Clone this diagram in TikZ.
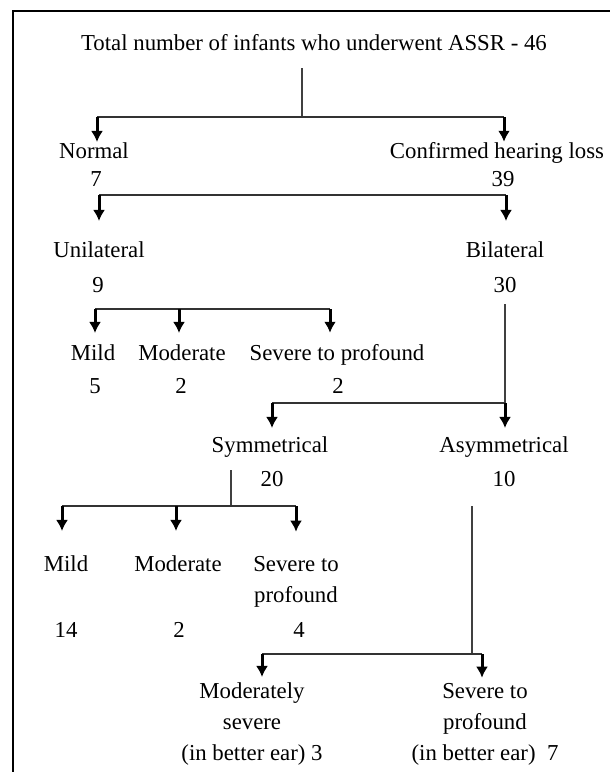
\documentclass[tikz,border=0pt]{standalone}
\usepackage{fontspec}
\setmainfont{Liberation Serif}
\usetikzlibrary{arrows.meta}

\begin{document}
\begin{tikzpicture}[
x=1pt, y=-1pt,
every node/.style={
inner sep=0pt,
align=center,
font=\fontsize{22.8}{31}\selectfont
},
lbl/.style={anchor=base},
bar/.style={line width=1.7pt, black!80},
stem/.style={line width=1.3pt, black!75},
arr/.style={-{Latex[length=11pt,width=12pt]}, line width=3pt}
]

\useasboundingbox (0,0) rectangle (610,772);
\draw[line width=2pt] (13,772) |- (610,11);

% level 0 and 1
\node[lbl] (title) at (314,50)
{Total number of infants who underwent ASSR - 46};

\node[lbl] (norm) at (94,158) {Normal};
\node[lbl] (normN) at (96,186) {7};

\node[lbl] (conf) at (497,158) {Confirmed hearing loss};
\node[lbl] (confN) at (503,186) {39};

% level 2
\node[lbl] (uni) at (99,257) {Unilateral};
\node[lbl] (uniN) at (98,292) {9};

\node[lbl] (bil) at (505,257) {Bilateral};
\node[lbl] (bilN) at (505,292) {30};

% unilateral grades
\node[lbl] (umild) at (93,360) {Mild};
\node[lbl] (umildN) at (95,393) {5};

\node[lbl] (umod) at (182,360) {Moderate};
\node[lbl] (umodN) at (181,393) {2};

\node[lbl] (usev) at (337,360) {Severe to profound};
\node[lbl] (usevN) at (338,393) {2};

% bilateral
\node[lbl] (sym) at (270,452) {Symmetrical};
\node[lbl] (symN) at (272,486) {20};

\node[lbl] (asym) at (504,452) {Asymmetrical};
\node[lbl] (asymN) at (504,486) {10};

% symmetrical grades
\node[lbl] (smild) at (66,571) {Mild};
\node[lbl] (smildN) at (66,637) {14};

\node[lbl] (smod) at (178,571) {Moderate};
\node[lbl] (smodN) at (179,637) {2};

\node[lbl] (ssev) at (296,602) {Severe to\\profound};
\node[lbl] (ssevN) at (299,637) {4};

% asymmetrical grades
\node[lbl] (amod) at (252,760)
{Moderately\\severe\\(in better ear) 3};

\node[lbl] (asev) at (485,760)
{Severe to\\profound\\(in better ear)\ \ 7};

% junctions
\coordinate (j0) at (302,117);
\coordinate (b1l) at (97,117);
\coordinate (b1r) at (504,117);
\coordinate (b2l) at (99,195);
\coordinate (b2r) at (506,195);
\coordinate (b3l) at (95,309);
\coordinate (b3m) at (179,309);
\coordinate (b3r) at (330,309);
\coordinate (b4l) at (272,403);
\coordinate (b4r) at (505,403);
\coordinate (j5) at (231,506);
\coordinate (b5l) at (62,506);
\coordinate (b5m) at (176,506);
\coordinate (b5r) at (296,506);
\coordinate (j6) at (472,654);
\coordinate (b6l) at (262,654);
\coordinate (b6r) at (482,654);

\draw[stem, shorten <=18pt] (title.south -| j0) -- (j0);
\draw[bar] (b1l) -- (b1r);
\draw[arr] (b1l) -- (b1l |- norm.north);
\draw[arr] (b1r) -- (b1r |- conf.north);

\draw[bar] (b2l) -- (b2r);
\draw[arr, shorten >=20pt] (b2l) -- (b2l |- uni.north);
\draw[arr, shorten >=20pt] (b2r) -- (b2r |- bil.north);

\draw[bar] (b3l) -- (b3r);
\draw[arr, shorten >=11pt] (b3l) -- (b3l |- umild.north);
\draw[arr, shorten >=11pt] (b3m) -- (b3m |- umod.north);
\draw[arr, shorten >=11pt] (b3r) -- (b3r |- usev.north);

\draw[stem, shorten <=12pt] (bilN.south) -- (b4r);
\draw[bar] (b4l) -- (b4r);
\draw[arr, shorten >=8pt] (b4l) -- (b4l |- sym.north);
\draw[arr, shorten >=8pt] (b4r) -- (b4r |- asym.north);

\draw[stem, shorten <=13pt] (j5 |- sym.south) -- (j5);
\draw[bar] (b5l) -- (b5r);
\draw[arr, shorten >=24pt] (b5l) -- (b5l |- smild.north);
\draw[arr, shorten >=24pt] (b5m) -- (b5m |- smod.north);
\draw[arr, shorten >=24pt] (b5r) -- (b5r |- ssev.north);

\draw[stem, shorten <=20pt] (j6 |- asymN.south) -- (j6);
\draw[bar] (b6l) -- (b6r);
\draw[arr, shorten >=5pt] (b6l) -- (b6l |- amod.north);
\draw[arr, shorten >=5pt] (b6r) -- (b6r |- asev.north);

\end{tikzpicture}
\end{document}
